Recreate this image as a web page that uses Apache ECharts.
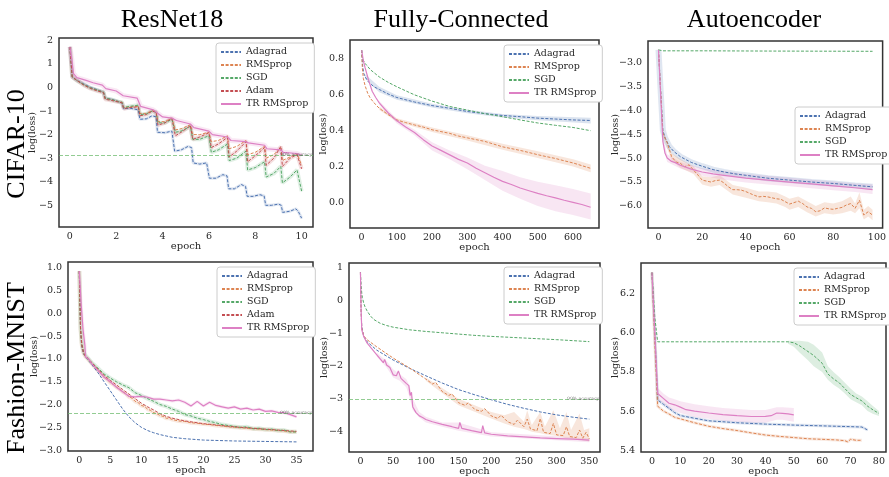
<!DOCTYPE html>
<html><head><meta charset="utf-8">
<script src="https://cdn.jsdelivr.net/npm/echarts@6/dist/echarts.min.js"></script>
<style>html,body{margin:0;padding:0;background:#fff}#c{width:889px;height:477px}</style>
</head><body><div id="c"></div>
<script>
// ---------- labels ----------
const colTitles = ['ResNet18', 'Fully-Connected', 'Autoencoder'];
const rowTitles = ['CIFAR-10', 'Fashion-MNIST'];
const namesRes = ['Adagrad', 'RMSprop', 'SGD', 'Adam', 'TR RMSprop'];
const namesOther = ['Adagrad', 'RMSprop', 'SGD', 'TR RMSprop'];

// ---------- tick labels ----------
const xTicks = [[0,2,4,6,8,10],[0,100,200,300,400,500,600],[0,20,40,60,80,100],[0,5,10,15,20,25,30,35],[0,50,100,150,200,250,300,350],[0,10,20,30,40,50,60,70,80]];
const yTicks = [[-5,-4,-3,-2,-1,0,1,2],[0,0.2,0.4,0.6,0.8],[-6,-5.5,-5,-4.5,-4,-3.5,-3],[-3,-2.5,-2,-1.5,-1,-0.5,0,0.5,1],[-4,-3,-2,-1,0,1],[5.4,5.6,5.8,6.0,6.2]];
const yDecimals = [0,1,1,1,0,1];
const xRange = [[-0.47,10.49],[-33,673.7],[-4.8,102.6],[-1.82,37.66],[-17.5,366.3],[-3.87,82.5]];
const yRange = [[-5.92,2.1],[-0.143,0.906],[-6.46,-2.555],[-3.02,1.13],[-4.62,1.134],[5.39,6.359]];

// accuracy reference lines
const accLines = [{panel:0, value:-2.88, text:'90% accuracy'},{panel:3, value:-2.19, text:'90% accuracy'},{panel:4, value:-3.01, text:'99% accuracy'}];

// ---------- CIFAR-10 / ResNet18 ----------
const c10ResAdagrad = [[0,1.72],[0.1,0.45],[0.3,0.3],[0.6,0.15],[0.9,0.0],[1.2,-0.1],[1.45,-0.2],[1.52,-0.45],[1.8,-0.5],[2.1,-0.6],[2.25,-0.65],[2.32,-0.9],[2.6,-0.88],[2.95,-0.95],[3.02,-1.35],[3.3,-1.33],[3.55,-1.2],[3.72,-1.25],[3.78,-1.9],[4.1,-1.92],[4.4,-1.85],[4.52,-2.7],[4.8,-2.65],[5.1,-2.5],[5.25,-2.55],[5.32,-3.2],[5.6,-3.25],[5.9,-3.2],[6.02,-3.85],[6.3,-3.85],[6.6,-3.7],[6.78,-3.75],[6.85,-4.3],[7.1,-4.3],[7.4,-4.12],[7.58,-4.2],[7.65,-4.62],[7.9,-4.62],[8.2,-4.55],[8.38,-4.6],[8.45,-5.0],[8.7,-5.0],[9.0,-4.95],[9.12,-5.0],[9.18,-5.3],[9.5,-5.25],[9.75,-5.15],[9.85,-5.25],[10,-5.55]];
const c10ResRMSprop = [[0,1.72],[0.1,0.45],[0.3,0.3],[0.6,0.12],[0.9,-0.02],[1.2,-0.12],[1.45,-0.2],[1.52,-0.45],[1.8,-0.52],[2.1,-0.6],[2.25,-0.62],[2.32,-0.85],[2.6,-0.82],[2.95,-0.8],[3.02,-1.1],[3.3,-1.1],[3.55,-0.98],[3.72,-1.02],[3.8,-1.45],[4.1,-1.45],[4.4,-1.3],[4.55,-1.8],[4.8,-1.75],[5.2,-1.58],[5.3,-2.0],[5.6,-2.0],[6.0,-1.9],[6.1,-2.3],[6.4,-2.25],[6.8,-2.05],[6.87,-2.6],[7.2,-2.5],[7.6,-2.25],[7.67,-2.85],[8.0,-2.75],[8.4,-2.5],[8.47,-3.0],[8.8,-2.85],[9.1,-2.55],[9.17,-3.1],[9.5,-2.95],[9.8,-2.8],[10,-3.3]];
const c10ResSGD = [[0,1.72],[0.1,0.45],[0.3,0.3],[0.6,0.12],[0.9,-0.03],[1.2,-0.12],[1.45,-0.2],[1.52,-0.45],[1.8,-0.52],[2.1,-0.6],[2.25,-0.63],[2.32,-0.85],[2.6,-0.8],[2.95,-0.75],[3.02,-1.15],[3.3,-1.12],[3.55,-1.0],[3.72,-1.05],[3.8,-1.5],[4.1,-1.5],[4.4,-1.35],[4.55,-1.9],[4.8,-1.85],[5.2,-1.65],[5.3,-2.2],[5.6,-2.2],[6.0,-2.05],[6.1,-2.75],[6.4,-2.65],[6.8,-2.4],[6.87,-3.1],[7.2,-3.0],[7.6,-2.7],[7.67,-3.5],[8.0,-3.4],[8.4,-3.15],[8.47,-3.8],[8.8,-3.65],[9.1,-3.35],[9.17,-4.05],[9.5,-3.8],[9.8,-3.5],[10,-4.4]];
const c10ResAdam = [[0,1.72],[0.1,0.45],[0.3,0.3],[0.6,0.1],[0.9,-0.05],[1.2,-0.15],[1.45,-0.22],[1.52,-0.5],[1.8,-0.55],[2.1,-0.62],[2.25,-0.65],[2.32,-0.9],[2.6,-0.85],[2.95,-0.82],[3.02,-1.2],[3.3,-1.15],[3.55,-1.0],[3.72,-1.05],[3.8,-1.6],[4.1,-1.5],[4.4,-1.3],[4.55,-2.05],[4.8,-1.9],[5.2,-1.62],[5.3,-2.2],[5.6,-2.1],[6.0,-1.92],[6.1,-2.55],[6.4,-2.4],[6.8,-2.12],[6.87,-2.95],[7.2,-2.7],[7.6,-2.3],[7.67,-3.15],[8.0,-2.9],[8.4,-2.55],[8.47,-3.3],[8.8,-3.0],[9.1,-2.5],[9.17,-3.35],[9.5,-3.0],[9.8,-2.85],[10,-3.45]];
const c10ResTR = [[0,1.72],[0.08,1.2],[0.15,0.6],[0.3,0.42],[0.7,0.3],[1.0,0.2],[1.4,0.1],[1.55,-0.05],[2.0,-0.15],[2.3,-0.35],[2.9,-0.45],[3.05,-0.8],[3.6,-0.95],[3.8,-1.1],[4.0,-1.25],[4.4,-1.3],[4.6,-1.4],[5.2,-1.55],[5.35,-1.7],[6.0,-1.85],[6.15,-2.0],[6.8,-2.1],[6.95,-2.25],[7.6,-2.3],[7.7,-2.35],[8.4,-2.45],[8.5,-2.6],[9.1,-2.65],[9.2,-2.75],[9.8,-2.8],[10,-2.88]];

// ---------- CIFAR-10 / Fully-Connected ----------
const c10FcAdagrad = [[0,0.85],[3,0.76],[6,0.72],[10,0.70],[20,0.67],[35,0.645],[50,0.63],[75,0.605],[100,0.585],[150,0.56],[200,0.54],[250,0.525],[300,0.507],[350,0.495],[400,0.485],[450,0.478],[500,0.47],[550,0.465],[600,0.46],[650,0.457]];
const c10FcRMSprop = [[0,0.85],[2,0.75],[5,0.69],[10,0.65],[17,0.61],[25,0.58],[40,0.545],[50,0.525],[75,0.49],[100,0.46],[125,0.445],[150,0.432],[175,0.42],[200,0.405],[225,0.395],[250,0.385],[275,0.37],[300,0.36],[325,0.35],[350,0.34],[375,0.325],[400,0.31],[425,0.3],[450,0.29],[475,0.278],[500,0.266],[525,0.255],[550,0.245],[575,0.232],[600,0.22],[625,0.205],[650,0.19]];
const c10FcSGD = [[0,0.85],[3,0.8],[10,0.775],[25,0.74],[50,0.70],[75,0.67],[100,0.645],[150,0.6],[200,0.565],[250,0.535],[300,0.515],[350,0.495],[400,0.478],[450,0.46],[500,0.443],[550,0.43],[600,0.418],[650,0.40]];
const c10FcTR = [[0,0.85],[5,0.79],[10,0.75],[20,0.68],[30,0.62],[40,0.585],[50,0.555],[75,0.5],[100,0.455],[125,0.42],[150,0.39],[175,0.35],[200,0.315],[225,0.29],[250,0.265],[275,0.24],[300,0.22],[325,0.19],[350,0.165],[375,0.14],[400,0.117],[425,0.1],[450,0.08],[475,0.065],[500,0.05],[525,0.037],[550,0.025],[575,0.012],[600,0.0],[625,-0.012],[650,-0.027]];
const c10FcTRBand = [[50,0.545,0.565],[100,0.44,0.465],[150,0.375,0.405],[200,0.29,0.335],[250,0.24,0.29],[300,0.185,0.25],[350,0.125,0.205],[400,0.065,0.175],[450,0.02,0.14],[500,-0.02,0.115],[550,-0.05,0.095],[600,-0.07,0.075],[650,-0.095,0.05]];
const c10FcRMSBand = [[50,0.515,0.535],[100,0.45,0.47],[200,0.393,0.418],[300,0.345,0.375],[400,0.293,0.327],[500,0.248,0.285],[600,0.2,0.24],[650,0.168,0.212]];
const c10FcAdaBand = [[10,0.69,0.715],[50,0.615,0.645],[100,0.572,0.598],[200,0.53,0.55],[300,0.497,0.517],[400,0.473,0.493],[500,0.458,0.482],[650,0.44,0.472]];

// ---------- CIFAR-10 / Autoencoder ----------
const c10AeAdagrad = [[0,-2.74],[1,-3.6],[2,-4.42],[3,-4.58],[5,-4.76],[7,-4.86],[10,-4.97],[15,-5.09],[20,-5.17],[25,-5.24],[30,-5.29],[35,-5.33],[40,-5.36],[50,-5.42],[60,-5.46],[70,-5.5],[80,-5.53],[90,-5.57],[98,-5.6]];
const c10AeRMSprop = [[0,-2.74],[1,-3.6],[2,-4.48],[4,-4.68],[6,-4.97],[8,-5.08],[10,-5.11],[12,-5.18],[14,-5.14],[16,-5.25],[18,-5.35],[20,-5.46],[22,-5.48],[24,-5.5],[26,-5.47],[28,-5.46],[30,-5.52],[32,-5.6],[34,-5.66],[36,-5.66],[38,-5.67],[40,-5.7],[42,-5.74],[44,-5.78],[46,-5.81],[48,-5.8],[50,-5.81],[52,-5.83],[54,-5.85],[56,-5.86],[58,-5.91],[60,-5.96],[62,-5.93],[64,-5.9],[66,-5.95],[68,-6.02],[70,-6.05],[72,-6.12],[74,-6.1],[76,-6.04],[78,-6.06],[80,-6.07],[82,-6.05],[84,-6.03],[86,-5.98],[88,-5.95],[90,-6.05],[92,-5.88],[94,-6.19],[96,-6.12],[98,-6.19]];
const c10AeSGD = [[0,-2.74],[2,-2.76],[20,-2.76],[50,-2.765],[98,-2.77]];
const c10AeTR = [[0,-2.74],[1,-3.7],[2,-4.65],[3,-4.9],[4,-5.0],[6,-5.07],[8,-5.1],[10,-5.15],[15,-5.23],[20,-5.29],[25,-5.33],[30,-5.36],[40,-5.42],[50,-5.46],[60,-5.5],[70,-5.54],[80,-5.58],[90,-5.62],[98,-5.66]];
const c10AeRMSBand = [[2,-4.55,-4.4],[6,-5.05,-4.9],[10,-5.2,-5.02],[16,-5.33,-5.17],[20,-5.55,-5.38],[24,-5.6,-5.4],[28,-5.56,-5.36],[34,-5.76,-5.56],[40,-5.83,-5.62],[46,-5.9,-5.7],[50,-5.92,-5.7],[54,-5.95,-5.72],[58,-6.02,-5.8],[60,-6.08,-5.85],[64,-6.02,-5.8],[68,-6.13,-5.9],[72,-6.22,-6.0],[76,-6.15,-5.92],[80,-6.18,-5.95],[84,-6.15,-5.9],[88,-6.1,-5.8],[90,-6.15,-5.95],[92,-6.05,-5.72],[94,-6.28,-6.08],[96,-6.22,-6.0],[98,-6.3,-6.08]];
const c10AeTRBand = [[2,-4.75,-4.55],[4,-5.08,-4.92],[10,-5.22,-5.08],[20,-5.37,-5.21],[30,-5.45,-5.27],[40,-5.51,-5.33],[50,-5.55,-5.37],[60,-5.59,-5.41],[70,-5.63,-5.45],[80,-5.67,-5.49],[90,-5.71,-5.53],[98,-5.75,-5.55]];

// ---------- Fashion-MNIST / ResNet18 ----------
const fmResAdagrad = [[0,0.93],[0.2,-0.4],[0.4,-0.75],[0.7,-0.9],[1,-0.95],[2,-1.12],[3,-1.3],[4,-1.5],[5,-1.7],[6,-1.9],[7,-2.1],[8,-2.27],[9,-2.4],[10,-2.5],[11,-2.57],[12,-2.62],[13,-2.66],[14,-2.69],[15,-2.72],[17,-2.75],[20,-2.78],[25,-2.8],[30,-2.81],[35,-2.82]];
const fmResRMSprop = [[0,0.93],[0.2,-0.35],[0.4,-0.7],[0.7,-0.88],[1,-0.95],[1.5,-1.02],[2,-1.1],[2.5,-1.18],[3,-1.25],[3.5,-1.32],[4,-1.4],[4.5,-1.45],[5,-1.52],[5.5,-1.56],[6,-1.62],[6.5,-1.66],[7,-1.72],[7.5,-1.76],[8,-1.83],[8.5,-1.86],[9,-1.93],[9.5,-1.96],[10,-2.02],[10.5,-2.04],[11,-2.1],[11.5,-2.13],[12,-2.18],[12.5,-2.2],[13,-2.24],[13.5,-2.26],[14,-2.3],[14.5,-2.3],[15,-2.33],[16,-2.36],[17,-2.37],[18,-2.4],[19,-2.41],[20,-2.43],[21,-2.44],[22,-2.46],[23,-2.47],[24,-2.49],[25,-2.5],[26,-2.51],[27,-2.52],[28,-2.53],[29,-2.54],[30,-2.55],[31,-2.56],[32,-2.57],[33,-2.58],[34,-2.6],[35,-2.6]];
const fmResSGD = [[0,0.93],[0.2,-0.3],[0.4,-0.65],[0.7,-0.85],[1,-0.92],[2,-1.08],[3,-1.2],[4,-1.33],[5,-1.42],[6,-1.5],[7,-1.57],[8,-1.63],[9,-1.74],[10,-1.8],[11,-1.87],[12,-1.93],[13,-2.0],[14,-2.04],[15,-2.1],[16,-2.15],[17,-2.22],[18,-2.25],[19,-2.3],[20,-2.33],[21,-2.37],[22,-2.4],[23,-2.44],[24,-2.46],[25,-2.48],[26,-2.5],[27,-2.49],[28,-2.53],[29,-2.52],[30,-2.55],[31,-2.54],[32,-2.57],[33,-2.56],[34,-2.6],[35,-2.6]];
const fmResAdam = [[0,0.93],[0.2,-0.35],[0.4,-0.68],[0.7,-0.87],[1,-0.93],[2,-1.08],[3,-1.22],[4,-1.36],[5,-1.47],[6,-1.57],[7,-1.67],[8,-1.77],[9,-1.87],[10,-1.97],[11,-2.05],[12,-2.12],[13,-2.2],[14,-2.26],[15,-2.3],[17,-2.36],[20,-2.42],[25,-2.49],[30,-2.54],[35,-2.59]];
const fmResTR = [[0,0.93],[0.3,0.2],[0.6,-0.35],[0.9,-0.7],[1.0,-0.95],[1.5,-1.0],[2,-1.1],[3,-1.25],[4,-1.4],[5,-1.5],[6,-1.62],[7,-1.72],[8,-1.82],[9,-1.83],[10,-1.82],[11,-1.84],[12,-1.88],[13,-1.88],[14,-1.9],[15,-1.92],[16,-1.9],[17,-1.95],[18,-2.03],[19,-1.93],[20,-2.03],[21,-1.95],[22,-2.02],[23,-2.05],[24,-2.08],[25,-2.05],[26,-2.1],[27,-2.08],[28,-2.12],[29,-2.1],[30,-2.15],[31,-2.14],[32,-2.17],[33,-2.18],[34,-2.22],[35,-2.27]];

// ---------- Fashion-MNIST / Fully-Connected ----------
const fmFcAdagrad = [[0,0.85],[1,-0.3],[2,-0.8],[5,-1.1],[10,-1.26],[25,-1.52],[50,-1.82],[75,-2.07],[100,-2.3],[125,-2.52],[150,-2.72],[175,-2.88],[200,-3.03],[225,-3.17],[250,-3.29],[275,-3.4],[300,-3.49],[325,-3.56],[350,-3.62]];
const fmFcRMSprop = [[0,0.85],[1,-0.3],[2,-0.85],[5,-1.08],[10,-1.2],[25,-1.42],[50,-1.76],[75,-2.06],[100,-2.4],[110,-2.55],[115,-2.5],[125,-2.78],[135,-2.9],[140,-2.85],[150,-3.12],[160,-3.2],[165,-3.12],[175,-3.33],[185,-3.38],[190,-3.3],[200,-3.52],[210,-3.6],[215,-3.5],[225,-3.7],[235,-3.78],[240,-3.65],[250,-3.85],[255,-3.62],[260,-3.92],[270,-3.97],[275,-3.6],[280,-4.02],[290,-4.06],[295,-3.75],[300,-4.1],[310,-4.12],[315,-3.85],[320,-4.15],[330,-4.18],[335,-3.95],[340,-4.2],[345,-4.02],[350,-4.22]];
const fmFcSGD = [[0,0.85],[1,0.45],[2,0.22],[3,0.08],[5,-0.09],[7,-0.2],[10,-0.32],[15,-0.47],[20,-0.58],[30,-0.7],[40,-0.77],[50,-0.82],[75,-0.9],[100,-0.95],[125,-0.99],[150,-1.03],[175,-1.07],[200,-1.1],[250,-1.15],[300,-1.2],[350,-1.26]];
const fmFcTR = [[0,0.85],[1,-0.3],[2,-0.9],[5,-1.1],[10,-1.3],[25,-1.66],[35,-1.9],[37,-1.8],[40,-1.97],[45,-2.05],[50,-2.27],[55,-2.3],[58,-2.15],[62,-2.38],[65,-2.35],[70,-2.53],[74,-2.6],[76,-2.9],[78,-2.8],[80,-3.25],[85,-3.42],[90,-3.52],[95,-3.57],[100,-3.63],[110,-3.7],[125,-3.78],[140,-3.85],[150,-3.9],[152,-3.72],[155,-3.9],[170,-3.97],[185,-4.03],[187,-3.82],[190,-4.04],[200,-4.08],[225,-4.13],[250,-4.16],[275,-4.19],[300,-4.21],[325,-4.23],[350,-4.26]];
const fmFcRMSBand = [[100,-2.45,-2.35],[150,-3.2,-3.0],[200,-3.6,-3.4],[220,-3.75,-3.5],[235,-3.85,-3.4],[250,-3.92,-3.7],[255,-3.95,-3.35],[262,-4.0,-3.8],[275,-4.05,-3.4],[282,-4.08,-3.85],[295,-4.12,-3.35],[305,-4.15,-3.9],[315,-4.2,-3.4],[322,-4.22,-3.95],[335,-4.25,-3.45],[342,-4.27,-3.95],[350,-4.3,-3.9]];
const fmFcTRBand = [[25,-1.72,-1.6],[40,-2.05,-1.85],[50,-2.35,-2.1],[60,-2.45,-2.25],[70,-2.65,-2.4],[75,-2.95,-2.6],[80,-3.35,-3.0],[90,-3.57,-3.4],[100,-3.72,-3.55],[125,-3.85,-3.72],[150,-3.97,-3.72],[200,-4.15,-4.02],[350,-4.32,-4.2]];

// ---------- Fashion-MNIST / Autoencoder ----------
const fmAeAdagrad = [[0,6.31],[1,6.0],[2,5.657],[4,5.635],[6,5.614],[8,5.592],[10,5.577],[15,5.563],[20,5.55],[30,5.54],[40,5.533],[50,5.528],[60,5.524],[70,5.52],[74,5.518],[76,5.503]];
const fmAeRMSprop = [[0,6.31],[1,5.95],[2,5.625],[4,5.6],[6,5.585],[8,5.568],[10,5.56],[15,5.54],[20,5.522],[25,5.51],[30,5.5],[35,5.488],[40,5.477],[45,5.47],[50,5.464],[55,5.458],[60,5.455],[65,5.452],[68,5.448],[69,5.442],[70,5.455],[72,5.45],[74,5.45]];
const fmAeSGD = [[0,6.31],[1,6.08],[2,5.955],[10,5.955],[20,5.955],[30,5.955],[40,5.955],[48,5.955],[50,5.95],[52,5.935],[55,5.905],[57,5.885],[60,5.845],[62,5.79],[64,5.765],[66,5.745],[68,5.715],[70,5.685],[72,5.668],[74,5.652],[76,5.625],[78,5.605],[80,5.588]];
const fmAeTR = [[0,6.31],[1,6.0],[2,5.69],[4,5.665],[6,5.64],[8,5.632],[10,5.62],[12,5.607],[15,5.6],[20,5.59],[25,5.582],[30,5.576],[35,5.572],[40,5.573],[42,5.576],[44,5.59],[46,5.588],[48,5.585],[50,5.58]];
const fmAeSGDBand = [[48,5.945,5.96],[50,5.93,5.96],[52,5.9,5.96],[55,5.86,5.955],[57,5.83,5.94],[60,5.8,5.9],[62,5.76,5.83],[64,5.735,5.8],[66,5.715,5.775],[68,5.69,5.745],[70,5.66,5.715],[72,5.645,5.69],[74,5.63,5.675],[76,5.6,5.65],[78,5.585,5.625],[80,5.575,5.6]];
const fmAeTRBand = [[2,5.66,5.72],[4,5.64,5.69],[6,5.61,5.67],[8,5.6,5.66],[10,5.59,5.65],[15,5.57,5.635],[20,5.56,5.625],[25,5.55,5.615],[30,5.545,5.61],[35,5.54,5.605],[40,5.54,5.605],[44,5.555,5.62],[46,5.555,5.62],[50,5.545,5.615]];

// ---------- styling ----------
const COL = {Adagrad:'#4c72b0', RMSprop:'#dd8452', SGD:'#55a868', Adam:'#c44e52', 'TR RMSprop':'#dd80c4'};
const FONT = 'DejaVu Serif';
const TXT = '#262626';
const grids = [
  {left:59, top:38, width:254, height:189},
  {left:350, top:40, width:249, height:188},
  {left:648, top:41, width:238, height:187},
  {left:68, top:262, width:245, height:189},
  {left:349, top:263, width:251, height:189},
  {left:641, top:263, width:245, height:189}];
const yNameGap = [21, 21, 27.5, 28, 19, 20.5];

function fmt(v, d){ return (d ? v.toFixed(d) : String(Math.round(v))).replace('-', '\u2212'); }

const series = [];
function line(gi, name, data){
  const c = COL[name];
  series.push({type:'line', name:name, xAxisIndex:gi, yAxisIndex:gi, data:data, symbol:'none', showSymbol:false,
    lineStyle:{color:c, width: name==='TR RMSprop'?1.2:1, type: name==='TR RMSprop'?'solid':[3,1.6]},
    itemStyle:{color:c}, silent:true, z:3});
}
function halo(gi, name, data, w){
  series.push({type:'line', name:'_h'+series.length, xAxisIndex:gi, yAxisIndex:gi, data:data, symbol:'none', showSymbol:false,
    lineStyle:{color:COL[name], width:w, opacity:0.18}, silent:true, z:2});
}
function band(gi, name, pts){
  series.push({type:'custom', name:'_b'+series.length, xAxisIndex:gi, yAxisIndex:gi, silent:true, z:1, clip:true,
    data:[[pts[0][0], pts[0][1]]],
    renderItem:function(params, api){
      const up = pts.map(p => api.coord([p[0], p[2]]));
      const lo = pts.slice().reverse().map(p => api.coord([p[0], p[1]]));
      return {type:'polygon', shape:{points: up.concat(lo)}, style:{fill:COL[name], opacity:0.2}};
    }});
}

// panel 0
halo(0,'Adagrad',c10ResAdagrad,3); halo(0,'SGD',c10ResSGD,4); halo(0,'Adam',c10ResAdam,4); halo(0,'TR RMSprop',c10ResTR,5);
line(0,'Adagrad',c10ResAdagrad); line(0,'RMSprop',c10ResRMSprop); line(0,'SGD',c10ResSGD); line(0,'Adam',c10ResAdam); line(0,'TR RMSprop',c10ResTR);
// panel 1
band(1,'Adagrad',c10FcAdaBand); band(1,'RMSprop',c10FcRMSBand); band(1,'TR RMSprop',c10FcTRBand);
line(1,'Adagrad',c10FcAdagrad); line(1,'RMSprop',c10FcRMSprop); line(1,'SGD',c10FcSGD); line(1,'TR RMSprop',c10FcTR);
// panel 2
band(2,'RMSprop',c10AeRMSBand); band(2,'TR RMSprop',c10AeTRBand); halo(2,'Adagrad',c10AeAdagrad,6);
line(2,'Adagrad',c10AeAdagrad); line(2,'RMSprop',c10AeRMSprop); line(2,'SGD',c10AeSGD); line(2,'TR RMSprop',c10AeTR);
// panel 3
halo(3,'RMSprop',fmResRMSprop,4); halo(3,'SGD',fmResSGD,4); halo(3,'TR RMSprop',fmResTR,3);
line(3,'Adagrad',fmResAdagrad); line(3,'RMSprop',fmResRMSprop); line(3,'SGD',fmResSGD); line(3,'Adam',fmResAdam); line(3,'TR RMSprop',fmResTR);
// panel 4
band(4,'RMSprop',fmFcRMSBand); band(4,'TR RMSprop',fmFcTRBand);
line(4,'Adagrad',fmFcAdagrad); line(4,'RMSprop',fmFcRMSprop); line(4,'SGD',fmFcSGD); line(4,'TR RMSprop',fmFcTR);
// panel 5
band(5,'SGD',fmAeSGDBand); band(5,'TR RMSprop',fmAeTRBand); halo(5,'RMSprop',fmAeRMSprop,3); halo(5,'Adagrad',fmAeAdagrad,3);
line(5,'Adagrad',fmAeAdagrad); line(5,'RMSprop',fmAeRMSprop); line(5,'SGD',fmAeSGD); line(5,'TR RMSprop',fmAeTR);

// accuracy lines
accLines.forEach(a => {
  series.push({type:'line', name:'_acc'+a.panel, xAxisIndex:a.panel, yAxisIndex:a.panel, data:[], silent:true, z:4,
    markLine:{silent:true, symbol:'none', animation:false,
      lineStyle:{color:'#6dbb6d', type:[4,2], width:1, opacity:0.75},
      label:{show:true, position:'insideEndTop', distance:[1,-2], formatter:a.text, fontSize:4.5, color:'#444', fontFamily:FONT},
      data:[{yAxis:a.value}]}});
});

const xAxes = grids.map((g,i) => ({type:'value', gridIndex:i, min:xRange[i][0], max:xRange[i][1],
  name:'epoch', nameLocation:'middle', nameGap:14, nameMoveOverlap:false, nameTextStyle:{fontFamily:FONT, fontSize:10, color:TXT},
  axisLine:{show:false}, axisTick:{show:false, customValues:xTicks[i]}, splitLine:{show:false},
  axisLabel:{customValues:xTicks[i], formatter:v => fmt(v,0), fontFamily:FONT, fontSize:9.5, color:TXT, margin:5}}));
const yAxes = grids.map((g,i) => ({type:'value', gridIndex:i, min:yRange[i][0], max:yRange[i][1],
  name:'log(loss)', nameLocation:'middle', nameGap:yNameGap[i], nameMoveOverlap:false, nameTextStyle:{fontFamily:FONT, fontSize:9.5, color:TXT},
  axisLine:{show:false}, axisTick:{show:false, customValues:yTicks[i]}, splitLine:{show:false},
  axisLabel:{customValues:yTicks[i], formatter:v => fmt(v,yDecimals[i]), fontFamily:FONT, fontSize:9.5, color:TXT, margin:6}}));

const legendPos = [{left:216, top:43, names:namesRes},{left:504, top:45, names:namesOther},{left:795, top:107, names:namesOther},
  {left:217, top:267, names:namesRes},{left:504, top:267, names:namesOther},{left:794, top:268, names:namesOther}];
const legends = legendPos.map(l => ({left:l.left, top:l.top, orient:'vertical', data:l.names, itemWidth:20, itemHeight:8, itemGap:3,
  padding:[4,6,4,4], backgroundColor:'#fff', borderColor:'#cccccc', borderWidth:1, borderRadius:3,
  itemStyle:{opacity:0, borderWidth:0},
  textStyle:{fontFamily:FONT, fontSize:9.5, color:TXT}, selectedMode:false}));

const graphics = [];
const titleX = [172, 461, 754];
colTitles.forEach((t,i) => graphics.push({type:'text', x:titleX[i], y:20, style:{text:t, font:'26px "Liberation Serif"', fill:'#000', textAlign:'center', textVerticalAlign:'middle'}}));
const rowY = [144, 368];
rowTitles.forEach((t,i) => graphics.push({type:'text', x:17, y:rowY[i], rotation:Math.PI/2, style:{text:t, font:'26px "Liberation Serif"', fill:'#000', textAlign:'center', textVerticalAlign:'middle'}}));

const option = {
  animation:false,
  backgroundColor:'#fff',
  grid: grids.map(g => Object.assign({show:true, borderColor:'#333', borderWidth:1.5, backgroundColor:'transparent'}, g)),
  xAxis: xAxes, yAxis: yAxes, legend: legends, series: series, graphic: graphics
};
const chart = echarts.init(document.getElementById('c'), null, {renderer:'canvas'});
chart.setOption(option);
</script></body></html>
